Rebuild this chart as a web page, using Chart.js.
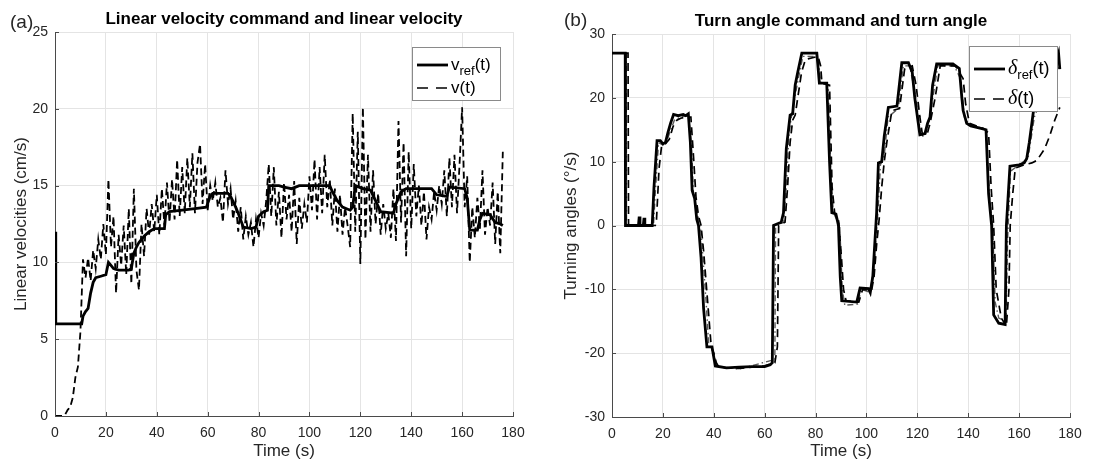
<!DOCTYPE html>
<html>
<head>
<meta charset="utf-8">
<script src="https://cdn.jsdelivr.net/npm/chart.js@4.4.1/dist/chart.umd.min.js"></script>
<style>
  html, body { margin: 0; padding: 0; background: #fff; }
  #wrap { position: relative; width: 1120px; height: 466px; }
  canvas { position: absolute; top: 0; }
</style>
</head>
<body>
<div id="wrap">
  <canvas id="velChart" width="560" height="466" style="left:0"></canvas>
  <canvas id="angChart" width="560" height="466" style="left:560px"></canvas>
</div>
<script>
/* ================= DATA ================= */
const timeTicks = [0, 20, 40, 60, 80, 100, 120, 140, 160, 180];
const velTicks = [0, 5, 10, 15, 20, 25];
const angTicks = [-30, -20, -10, 0, 10, 20, 30];

// (a) linear velocity command v_ref(t): breakpoints
const vRefT = [0, 0.3, 10.5, 11, 12, 13, 14, 15, 16, 18, 20, 21, 22, 23, 25, 29, 30, 31, 32, 33, 35, 37, 39, 43,
  43.5, 45, 50, 55, 59.5, 61, 62, 68, 69, 71, 72, 74, 77, 79, 80, 82, 83.5, 84, 88, 90, 93, 96, 108, 109, 111,
  113, 116, 117, 118, 121, 124, 126, 128, 133, 134, 136, 138, 148, 150, 154, 155, 161, 162, 163, 166, 167, 168,
  171, 173, 175, 176];
const vRef = [12, 6, 6, 6.5, 6.8, 7, 8, 8.7, 9, 9.1, 9.2, 10, 9.8, 9.6, 9.5, 9.5, 9.6, 10.6, 11, 11.3, 11.7, 12, 12.2, 12.2,
  13.1, 13.3, 13.4, 13.5, 13.6, 14.3, 14.5, 14.5, 14.3, 13.6, 13.2, 12.3, 12.2, 12.3, 13, 13.3, 13.4, 15, 15, 14.9,
  14.8, 15, 15, 14.6, 14, 13.6, 13.4, 13.6, 15, 14.8, 14.7, 14, 13.3, 13.2, 13.8, 14.6, 14.8, 14.8, 14.4, 14.3, 14.9,
  14.8, 14.2, 12.1, 12.1, 12.8, 13.2, 13.1, 12.6, 12.5, 12.4];

// (a) measured linear velocity v(t), one sample per second from t = 0
const vMeas = [
  0, 0, 0, 0, 0.1, 0.4, 0.6, 1.2, 2.5, 3.2,
  5.5, 10.2, 9.0, 10.3, 8.8, 10.8, 9.6, 11.5, 10.2, 12.5,
  10.5, 15.4, 11.0, 13.0, 8.0, 11.8, 9.8, 12.4, 9.2, 13.5,
  8.6, 14.8, 9.5, 8.2, 12.5, 10.4, 13.5, 11.8, 13.8, 12.0,
  14.4, 11.8, 14.8, 12.4, 15.2, 12.6, 15.4, 12.8, 16.7, 13.0,
  16.2, 13.2, 16.8, 13.6, 17.1, 13.2, 16.5, 17.7, 13.8, 16.4,
  13.4, 15.0, 14.0, 15.2, 13.6, 14.2, 12.6, 16.0, 13.8, 14.8,
  12.8, 14.0, 12.0, 13.6, 11.5, 13.0, 11.8, 12.6, 11.0, 12.8,
  11.6, 13.2, 12.4, 14.0, 16.4, 13.0, 16.2, 12.4, 14.6, 11.6,
  15.2, 12.8, 14.4, 12.0, 15.3, 11.2, 14.2, 12.2, 13.8, 12.6,
  15.6, 13.4, 16.7, 12.8, 16.2, 13.2, 17.0, 13.6, 15.4, 12.4,
  14.8, 12.0, 14.4, 11.8, 13.6, 12.4, 11.0, 19.7, 12.0, 18.5,
  9.9, 20.1, 11.5, 17.0, 12.0, 16.0, 12.5, 14.5, 11.8, 13.8,
  12.2, 13.2, 11.6, 14.8, 11.4, 19.2, 12.6, 17.8, 10.4, 17.2,
  12.2, 16.4, 13.0, 15.0, 12.4, 14.6, 11.5, 13.6, 12.8, 14.6,
  13.4, 15.0, 13.8, 16.0, 13.0, 16.8, 13.6, 17.0, 13.2, 16.4,
  20.1, 13.6, 15.6, 10.0, 13.6, 11.6, 14.2, 12.2, 16.0, 11.8,
  13.6, 12.4, 15.2, 11.2, 14.6, 10.6, 17.2
];

// (b) turn angle command delta_ref(t)
const dRefT = [0, 5.2, 5.3, 10.4, 10.7, 11, 12.3, 12.6, 12.9, 15.8, 16.5, 17.7, 19, 20, 21, 22, 23, 24.2, 26, 28, 29, 30,
  30.8, 31.5, 32.5, 33.3, 34, 35, 36, 37.3, 39.3, 40.6, 45, 50, 55, 60, 62.2, 63, 63.5, 66.5, 67.4, 68.5, 70, 71,
  72, 73, 74.6, 80.5, 81.5, 84.4, 85.5, 86.4, 88, 89, 89.7, 90.3, 96.2, 97.5, 100.8, 101.5, 102.5, 103.4, 104,
  104.7, 106, 107, 108.6, 112, 113.9, 116.5, 118, 119, 121, 123, 124, 125, 126, 127.6, 134, 136.5, 137.5, 138,
  139.4, 141, 145, 147, 148, 149.2, 150, 152, 154.5, 155, 156.4, 160, 162, 163, 164, 165, 166, 168, 171, 174,
  175.5, 176];
const dRef = [27, 27, 0, 0, 1.4, 0, 0, 1.2, 0, 0, 6, 13.3, 13.3, 12.8, 13, 14.6, 16, 17.4, 17.2, 17.4, 17.2, 17.5,
  13, 5.5, 4.2, 1, 0, -5, -13, -19, -19, -22, -22.3, -22.2, -22.1, -22.1, -21.8, -21.5, 0, 0.5, 2, 12, 17.3, 17.5,
  22, 24, 27, 27, 22.3, 22.3, 10, 2, 1.8, 0, -8, -11.8, -12, -9.8, -9.9, -10.5, -8, -2, 2,
  9.8, 10, 14, 18.5, 18.7, 25.5, 25.5, 24, 20, 14.2, 14.4, 16, 17, 22, 25.3, 25.3, 24.6, 20, 18,
  16, 15.6, 15.2, 15, 5, 0, -14, -15.3, -15.5, 0, 9.3, 9.5, 9.8, 10.5, 13, 16, 19, 21, 23, 25,
  27, 24.5];

// (b) measured turn angle delta(t)
const dMeasT = [0, 6.3, 6.5, 17, 17.5, 18.5, 19.5, 21, 22.5, 24, 25.5, 27, 29, 31, 32, 33, 34, 35, 36, 38, 39, 40,
  41, 42, 50, 60, 64, 65, 65.5, 68, 69, 70, 71, 72, 73, 74.5, 76, 81, 82, 82.5, 85.5, 86.5, 87.5, 89, 90, 91, 92,
  97, 98.5, 102, 103, 104, 105, 106, 107, 108, 110, 113, 115, 118, 119.5, 121, 122, 124, 125, 127, 129, 135, 138,
  139, 140.5, 146, 148, 149, 150, 151, 153, 155, 156, 156.5, 157.5, 158.5, 162, 165, 167, 170, 172, 174, 176];
const dMeas = [27, 27, 0, 0, 1, 9, 12.5, 12.8, 13.5, 15.5, 16.5, 16.8, 17, 17, 11, 4.5, 1.5, 0, -4, -14, -19, -20,
  -21.5, -22.2, -22.4, -22, -21.5, -19, 0, 0.5, 6, 13, 16.5, 17.3, 20, 24, 26, 26.5, 25, 22.3, 22, 6, 2, 1, -4, -10, -11.8,
  -12, -10, -10.2, -8, -3, 1, 6, 10, 13, 18, 18.3, 24.5, 25, 22, 17, 14.2, 14.5, 16, 20, 25, 25, 23,
  19, 16, 15.2, 14.5, 6, 0, -10, -14.5, -15.8, -10, 0, 5, 9, 9.5, 9.8, 10.2, 12, 14, 16.5, 18.5];

// (b) intermediate response (dash-dot trace, not in legend)
const dMidT = [0, 5.6, 5.7, 16.3, 17, 18.3, 20, 22, 24.5, 27, 30, 31.2, 32, 33.5, 35, 37, 38, 40, 41, 50, 62, 64,
  64.3, 67.5, 68.5, 69.5, 70.5, 72.5, 75, 81, 82, 85, 86, 87, 89.5, 90.5, 91.5, 96.5, 98, 101.5, 103, 104.5, 105.5,
  107, 108.5, 112.5, 114.5, 117, 119, 121.5, 123, 124.5, 126.5, 128, 134.5, 137, 138.5, 140, 147, 148.5, 149.6,
  150.6, 152, 154.8, 155.5, 156.6, 161, 163.5, 166, 170, 176];
const dMid = [27, 27, 0, 0, 5, 13, 12.6, 13.8, 16.5, 17, 17.2, 13, 5, 2, -1, -12, -18.5, -20, -22, -22.5, -21.2, -21,
  0, 0.5, 6, 14, 17, 21.5, 26.5, 26.5, 22.3, 22, 8, 2, 0, -10, -12.5, -12.3, -10, -10.5, -6, 2, 9.5,
  11, 17, 18.3, 25, 25, 21, 14, 14, 16, 21, 25, 25, 23, 17, 16, 15, 4, 0,
  -12, -14.5, -15, -2, 8.5, 9.8, 10.5, 17, 21, 25];

/* ================= HELPERS ================= */
const SANS = '"Liberation Sans", Arial, Helvetica, sans-serif';
const SERIF = '"Liberation Serif", "Times New Roman", serif';
const INK = '#262626';
const AXIS = '#4a4a4a';

function pairs(xs, ys) {
  return xs.map((x, i) => ({ x: x, y: ys[i] }));
}

function overlay(o) {
  return {
    id: 'overlay',
    afterDraw(chart) {
      const c = chart.ctx;
      const a = chart.chartArea;
      c.save();

      // inward tick marks (matlab style)
      c.strokeStyle = AXIS;
      c.lineWidth = 1;
      c.beginPath();
      chart.scales.x.ticks.forEach(t => {
        const px = Math.round(chart.scales.x.getPixelForValue(t.value)) + 0.5;
        c.moveTo(px, a.bottom);
        c.lineTo(px, a.bottom - 4);
      });
      chart.scales.y.ticks.forEach(t => {
        const py = Math.round(chart.scales.y.getPixelForValue(t.value)) + 0.5;
        c.moveTo(a.left, py);
        c.lineTo(a.left + 4, py);
      });
      c.stroke();

      c.fillStyle = '#000';
      c.textBaseline = 'middle';
      c.font = 'bold 17px ' + SANS;
      c.textAlign = 'center';
      c.fillText(o.title, o.titleX, o.titleY);
      c.font = '19px ' + SANS;
      c.textAlign = 'left';
      c.fillStyle = INK;
      c.fillText(o.tag, o.tagX, o.tagY);

      const b = o.legend;
      c.fillStyle = '#fff';
      c.fillRect(b.x, b.y, b.w, b.h);
      c.strokeStyle = '#8a8a8a';
      c.lineWidth = 1;
      c.strokeRect(b.x + 0.5, b.y + 0.5, b.w, b.h);
      b.rows.forEach(r => {
        c.beginPath();
        c.setLineDash(r.dash);
        c.lineWidth = r.width;
        c.strokeStyle = '#000';
        c.moveTo(b.x + 5, r.y);
        c.lineTo(b.x + 36, r.y);
        c.stroke();
        c.setLineDash([]);
        let x = b.x + 39;
        c.fillStyle = '#000';
        r.parts.forEach(p => {
          c.font = p.font;
          c.fillText(p.t, x, r.y + p.dy);
          x += c.measureText(p.t).width + (p.gap || 0);
        });
      });
      c.restore();
    }
  };
}

function axes(o) {
  return {
    x: {
      type: 'linear', min: 0, max: 180,
      afterBuildTicks: s => { s.ticks = timeTicks.map(v => ({ value: v })); },
      afterFit: s => { s.height = o.xh; },
      grid: { color: '#e4e4e4', drawTicks: false },
      border: { color: AXIS, width: 1 },
      ticks: { color: INK, font: { family: SANS, size: 14 }, padding: 9, maxRotation: 0 },
      title: { display: true, text: 'Time (s)', color: INK, font: { family: SANS, size: 17 }, padding: { top: 4, bottom: 4 } }
    },
    y: {
      type: 'linear', min: o.ymin, max: o.ymax,
      afterBuildTicks: s => { s.ticks = o.yticks.map(v => ({ value: v })); },
      afterFit: s => { s.width = o.yw; },
      grid: { color: '#e4e4e4', drawTicks: false },
      border: { color: AXIS, width: 1 },
      ticks: { color: INK, font: { family: SANS, size: 14 }, padding: 7 },
      title: { display: true, text: o.ytitle, color: INK, font: { family: SANS, size: 17 }, padding: { top: o.ytp, bottom: 0 } }
    }
  };
}

/* ================= CHART (a) ================= */
new Chart(document.getElementById('velChart'), {
  type: 'scatter',
  data: {
    datasets: [
      { label: 'v_ref(t)', data: pairs(vRefT, vRef), showLine: true, borderColor: '#000', borderWidth: 2.8,
        pointRadius: 0, tension: 0 },
      { label: 'v(t)', data: vMeas.map((v, i) => ({ x: i, y: v })), showLine: true, borderColor: '#000',
        borderWidth: 1.8, borderDash: [7, 4], pointRadius: 0, tension: 0 }
    ]
  },
  options: {
    responsive: false, animation: false, events: [],
    layout: { padding: { left: 0, top: 32, right: 47, bottom: 0 } },
    plugins: { legend: { display: false }, title: { display: false }, tooltip: { enabled: false } },
    scales: axes({ xh: 50, yw: 55, ymin: 0, ymax: 25, yticks: velTicks, ytitle: 'Linear velocities (cm/s)', ytp: 11 })
  },
  plugins: [overlay({
    title: 'Linear velocity command and linear velocity', titleX: 284, titleY: 19,
    tag: '(a)', tagX: 10, tagY: 23,
    legend: {
      x: 412, y: 47, w: 88, h: 53,
      rows: [
        { y: 65, dash: [], width: 2.8, parts: [
          { t: 'v', font: '17px ' + SANS, dy: 0 }, { t: 'ref', font: '13px ' + SANS, dy: 6 }, { t: '(t)', font: '17px ' + SANS, dy: 0 }] },
        { y: 88, dash: [11, 8], width: 1.7, parts: [
          { t: 'v(t)', font: '17px ' + SANS, dy: 0 }] }
      ]
    }
  })]
});

/* ================= CHART (b) ================= */
new Chart(document.getElementById('angChart'), {
  type: 'scatter',
  data: {
    datasets: [
      { label: 'delta_ref(t)', data: pairs(dRefT, dRef), showLine: true, borderColor: '#000', borderWidth: 2.8,
        pointRadius: 0, tension: 0 },
      { label: 'delta(t)', data: pairs(dMeasT, dMeas), showLine: true, borderColor: '#000', borderWidth: 1.7,
        borderDash: [8, 5], pointRadius: 0, tension: 0 },
      { label: 'mid', data: pairs(dMidT, dMid), showLine: true, borderColor: '#5a5a5a', borderWidth: 1.4,
        borderDash: [6, 3, 1.5, 3], pointRadius: 0, tension: 0 }
    ]
  },
  options: {
    responsive: false, animation: false, events: [],
    layout: { padding: { left: 0, top: 34, right: 50, bottom: 0 } },
    plugins: { legend: { display: false }, title: { display: false }, tooltip: { enabled: false } },
    scales: axes({ xh: 49, yw: 52, ymin: -30, ymax: 30, yticks: angTicks, ytitle: 'Turning angles (°/s)', ytp: 1 })
  },
  plugins: [overlay({
    title: 'Turn angle command and turn angle', titleX: 281, titleY: 21,
    tag: '(b)', tagX: 4, tagY: 21,
    legend: {
      x: 409, y: 46, w: 88, h: 65,
      rows: [
        { y: 69, dash: [], width: 2.8, parts: [
          { t: 'δ', font: 'italic 20px ' + SERIF, dy: 0 }, { t: 'ref', font: '13px ' + SANS, dy: 6 }, { t: '(t)', font: '18px ' + SANS, dy: 0 }] },
        { y: 99, dash: [11, 8], width: 1.7, parts: [
          { t: 'δ', font: 'italic 20px ' + SERIF, dy: 0 }, { t: '(t)', font: '18px ' + SANS, dy: 0 }] }
      ]
    }
  })]
});
</script>
</body>
</html>
